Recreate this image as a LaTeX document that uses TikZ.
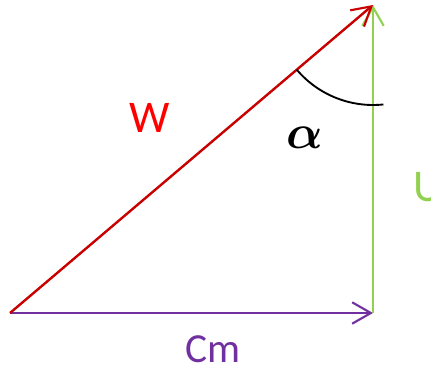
\documentclass[tikz,border=0pt]{standalone}
\usepackage{fontspec}
\setmainfont{Carlito}
\usepackage{amsmath}
\usepackage{bm}
\usepackage{xcolor}
\usepackage{tikz}
\usetikzlibrary{
  positioning,
  arrows.meta,
  calc
}
\definecolor{wred}{RGB}{200,0,0}
\definecolor{wlabel}{RGB}{255,0,0}
\definecolor{cmpurple}{RGB}{112,48,160}
\definecolor{ugreen}{RGB}{146,208,80}

\begin{document}
\begin{tikzpicture}[
    x=0.75pt, y=0.75pt,
    > = {Straight Barb[length=14pt, width=16pt, line width=1.6pt]},
    vec/.style={line width=1.8pt, ->},
    lbl/.style={inner sep=0pt, font=\fontsize{34}{40}\selectfont}
]
    \useasboundingbox (0,0) rectangle (431,370);

    % 三角形顶点
    \coordinate (O) at (10,57);
    \coordinate (B) at (373,57);
    \coordinate (T) at (373,365);

    % 速度矢量
    \draw[vec, cmpurple] (O) -- (B);
    \draw[vec, ugreen] (B) -- (T);
    \draw[vec, wred] (O) -- (T);

    % 角度弧
    \def\r{100}
    \pgfmathsetmacro{\ang}{180+atan(308/363)}
    \draw[line width=1.4pt, black] (T) ++(\ang:\r) arc (\ang:276:\r);

    % 标注
    \node[lbl, wlabel] (w) at (150,252) {W};
    \node[lbl, ugreen, anchor=west] (u) at (413,183) {U};
    \node[lbl, cmpurple, font=\fontsize{31}{36}\selectfont] (cm) at (213,21) {Cm};
    \node[inner sep=0pt, scale=1.45] (alpha) at (305,232) {\Huge$\bm{\alpha}$};
\end{tikzpicture}
\end{document}
